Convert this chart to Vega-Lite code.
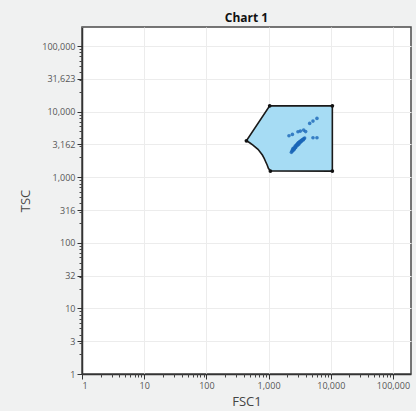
{
  "$schema": "https://vega.github.io/schema/vega-lite/v6.json",
  "width": 329,
  "height": 347,
  "autosize": {"type": "none"},
  "padding": {"left": 82, "top": 27, "right": 5, "bottom": 37},
  "background": "#f0f1f1",
  "config": {
    "font": "Open Sans",
    "view": {"stroke": "#4a4a4a", "strokeWidth": 1.5, "fill": "white"}
  },
  "title": {
    "text": "Chart 1",
    "fontSize": 12,
    "fontWeight": "bold",
    "color": "#111",
    "anchor": "middle",
    "frame": "group",
    "baseline": "alphabetic",
    "offset": 6,
    "dy": 13
  },
  "datasets": {
    "gate": [
      {"i": 1, "x": 1042, "y": 12250, "corner": true},
      {"i": 2, "x": 10600, "y": 12250, "corner": true},
      {"i": 3, "x": 10600, "y": 1240, "corner": true},
      {"i": 4, "x": 1069, "y": 1242, "corner": true},
      {"i": 5, "x": 993, "y": 1366, "corner": false},
      {"i": 6, "x": 949, "y": 1535, "corner": false},
      {"i": 7, "x": 898, "y": 1722, "corner": false},
      {"i": 8, "x": 850, "y": 1940, "corner": false},
      {"i": 9, "x": 795, "y": 2178, "corner": false},
      {"i": 10, "x": 676, "y": 2660, "corner": false},
      {"i": 11, "x": 561, "y": 3090, "corner": false},
      {"i": 12, "x": 497, "y": 3350, "corner": false},
      {"i": 13, "x": 440, "y": 3594, "corner": true}
    ],
    "events": [
      {"x": 2415, "y": 2594}, {"x": 2533, "y": 2782}, {"x": 2677, "y": 2985},
      {"x": 2831, "y": 3147}, {"x": 2992, "y": 3318}, {"x": 3162, "y": 3494},
      {"x": 3342, "y": 3622}, {"x": 3532, "y": 3750}, {"x": 3802, "y": 3953},
      {"x": 2728, "y": 2833}, {"x": 3048, "y": 3147}, {"x": 3405, "y": 3556},
      {"x": 2485, "y": 2548}, {"x": 2326, "y": 2393}, {"x": 2884, "y": 3035},
      {"x": 3665, "y": 3814}, {"x": 2600, "y": 2700}, {"x": 2950, "y": 3250},
      {"x": 3250, "y": 3420}, {"x": 3600, "y": 3700},
      {"x": 2450, "y": 2700}, {"x": 2560, "y": 2650}, {"x": 2700, "y": 2900},
      {"x": 2780, "y": 3050}, {"x": 2900, "y": 3100}, {"x": 3050, "y": 3380},
      {"x": 3120, "y": 3300}, {"x": 3300, "y": 3520}, {"x": 3450, "y": 3700},
      {"x": 3700, "y": 3850}, {"x": 2380, "y": 2480}, {"x": 2650, "y": 2820},
      {"x": 2128, "y": 4285}, {"x": 2415, "y": 4498}, {"x": 2971, "y": 4930},
      {"x": 3246, "y": 5047}, {"x": 3665, "y": 5227}, {"x": 3947, "y": 4963},
      {"x": 4581, "y": 6610}, {"x": 5176, "y": 7167}, {"x": 5999, "y": 7875},
      {"x": 5176, "y": 3993}, {"x": 5999, "y": 3993}
    ]
  },
  "layer": [
    {
      "data": {"name": "gate"},
      "mark": {"type": "line", "interpolate": "linear-closed", "fill": "#a6dcf4", "stroke": "#1a1a1a", "strokeWidth": 1.6},
      "encoding": {
        "order": {"field": "i", "type": "quantitative"},
        "x": {
          "field": "x", "type": "quantitative",
          "scale": {"type": "log", "domain": [1, 195000], "nice": false},
          "axis": {
            "orient": "bottom",
            "values": [1, 10, 100, 1000, 10000, 100000],
            "format": ",",
            "labelFontSize": 9, "labelColor": "#555", "labelPadding": 2,
            "tickSize": 5, "tickColor": "#333", "domainColor": "#333", "domainWidth": 1.5,
            "grid": true, "gridColor": "#ececec",
            "title": "FSC1", "titleFontSize": 13, "titleFontWeight": "normal", "titleColor": "#444", "titlePadding": 5
          }
        },
        "y": {
          "field": "y", "type": "quantitative",
          "scale": {"type": "log", "domain": [1, 195000], "nice": false},
          "axis": {
            "orient": "left",
            "values": [1, 3.1623, 10, 31.623, 100, 316.23, 1000, 3162.3, 10000, 31623, 100000],
            "format": ",.0f",
            "labelFontSize": 9, "labelColor": "#555", "labelPadding": 2,
            "tickSize": 5, "tickColor": "#333", "domainColor": "#333", "domainWidth": 1.5,
            "grid": true, "gridColor": "#ececec",
            "title": "TSC", "titleFontSize": 13, "titleFontWeight": "normal", "titleColor": "#444", "titlePadding": 9
          }
        }
      }
    },
    {
      "data": {"name": "gate"},
      "transform": [{"filter": "datum.corner"}],
      "mark": {"type": "circle", "color": "#111", "size": 14, "opacity": 1},
      "encoding": {
        "x": {
          "field": "x", "type": "quantitative",
          "axis": {
            "orient": "bottom",
            "values": [2,3,4,5,6,7,8,9,20,30,40,50,60,70,80,90,200,300,400,500,600,700,800,900,2000,3000,4000,5000,6000,7000,8000,9000,20000,30000,40000,50000,60000,70000,80000,90000],
            "labels": false, "domain": false, "grid": false, "title": null,
            "tickSize": 3, "tickColor": "#444"
          }
        },
        "y": {
          "field": "y", "type": "quantitative",
          "axis": {
            "orient": "left",
            "values": [2,3,4,5,6,7,8,9,20,30,40,50,60,70,80,90,200,300,400,500,600,700,800,900,2000,3000,4000,5000,6000,7000,8000,9000,20000,30000,40000,50000,60000,70000,80000,90000],
            "labels": false, "domain": false, "grid": false, "title": null,
            "tickSize": 3, "tickColor": "#444"
          }
        }
      }
    },
    {
      "data": {"name": "events"},
      "mark": {"type": "circle", "color": "#1a67b8", "size": 13, "opacity": 0.8},
      "encoding": {
        "x": {"field": "x", "type": "quantitative", "axis": null},
        "y": {"field": "y", "type": "quantitative", "axis": null}
      }
    }
  ],
  "resolve": {"axis": {"x": "independent", "y": "independent"}}
}
